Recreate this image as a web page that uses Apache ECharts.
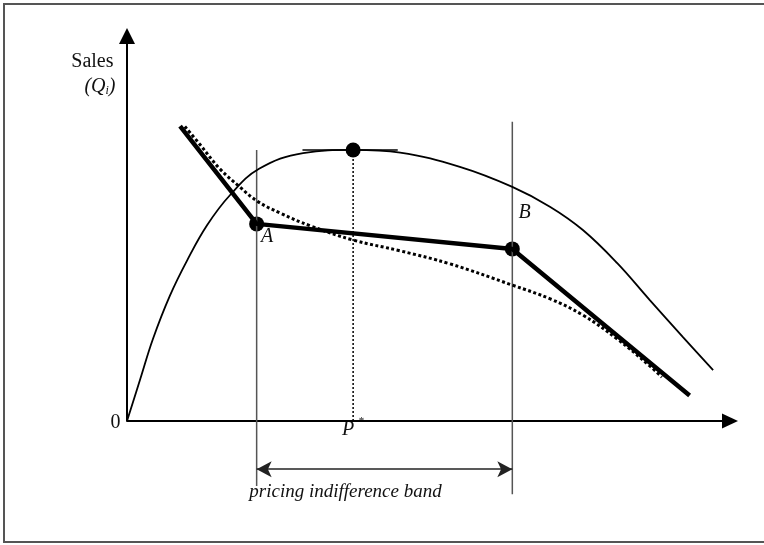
<!DOCTYPE html>
<html>
<head>
<meta charset="utf-8">
<script src="https://cdn.jsdelivr.net/npm/echarts@6/dist/echarts.min.js"></script>
<style>
  html, body { margin: 0; padding: 0; background: #fff; }
  #chart { width: 764px; height: 545px; }
</style>
</head>
<body>
<div id="chart"></div>
<script>
// price runs 0..100 to the right, sales 0..100 upwards (negative y = under the axis)
const salesCurve = [
  [0, 0], [2.2, 10.9], [4.3, 21.3], [7.1, 32.5], [10.0, 41.8], [13.3, 50.9],
  [17.1, 58.7], [21.9, 65.5], [29.2, 69.6], [37.5, 70.4], [45.3, 69.7],
  [55.2, 66.0], [63.9, 60.8], [70.2, 55.6], [75.6, 49.6], [81.3, 41.0],
  [86.7, 31.4], [92.2, 21.8], [97.2, 13.2]
]
const kinkedDemand = [[8.8, 76.6], [21.5, 51.2], [63.9, 44.7], [93.3, 6.6]]
const smoothDemand = [
  [9.6, 76.5], [12.1, 71.8], [15.4, 65.5], [18.7, 60.8], [21.6, 57.1],
  [25.4, 54.0], [30.4, 50.7], [37.5, 47.0], [45.3, 44.2], [53.6, 40.8],
  [63.9, 35.3], [70.2, 31.7], [75.6, 27.5], [81.3, 21.3], [86.7, 14.3],
  [88.7, 11.4]
]
const pointA = [21.5, 51.2]
const pointB = [63.9, 44.7]
const peak = [37.5, 70.4]
const tangentX = [29.1, 44.9]
const lineA = [-16.9, 70.4]
const lineB = [-19.0, 77.7]
const bandArrowY = -12.5
const yTop = 100

const font = '"Liberation Serif", "Times New Roman", serif'

function segment(pts, style) {
  return {
    type: 'line',
    data: pts,
    symbol: 'none',
    clip: false,
    silent: true,
    lineStyle: style
  }
}

const chart = echarts.init(document.getElementById('chart'))

const option = {
  backgroundColor: '#fff',
  animation: false,
  grid: {
    left: 127,
    right: 34,
    top: 36,
    bottom: 27.75
  },
  xAxis: {
    type: 'value',
    min: 0,
    max: 100,
    axisLine: {
      onZero: true,
      symbol: ['none', 'triangle'],
      symbolSize: [15, 16],
      lineStyle: { color: '#000', width: 2 }
    },
    axisTick: { show: false },
    axisLabel: { show: false },
    splitLine: { show: false }
  },
  yAxis: {
    type: 'value',
    min: -25,
    max: 100,
    axisLine: { show: false },
    axisTick: { show: false },
    axisLabel: { show: false },
    splitLine: { show: false }
  },
  graphic: [
    {
      type: 'rect',
      shape: { x: 4, y: 4, width: 800, height: 538 },
      style: { fill: 'none', stroke: '#555', lineWidth: 2 },
      silent: true
    },
    {
      type: 'text', x: 113.5, y: 62,
      style: { text: 'Sales', font: '20px ' + font, fill: '#111', align: 'right', verticalAlign: 'middle' }
    },
    {
      type: 'text', x: 115.5, y: 87,
      style: {
        text: '{a|(Q}{s|i}{a|)}',
        align: 'right',
        verticalAlign: 'middle',
        rich: {
          a: { font: 'italic 20px ' + font, fill: '#111' },
          s: { font: 'italic 12px ' + font, fill: '#111', verticalAlign: 'bottom' }
        }
      }
    },
    {
      type: 'text', x: 115.5, y: 423,
      style: { text: '0', font: '20px ' + font, fill: '#111', align: 'center', verticalAlign: 'middle' }
    },
    {
      type: 'text', x: 342, y: 430,
      style: { text: 'P', font: 'italic 20px ' + font, fill: '#111', align: 'left', verticalAlign: 'middle' }
    },
    {
      type: 'text', x: 361.5, y: 421,
      style: { text: '*', font: '11px ' + font, fill: '#111', align: 'center', verticalAlign: 'middle' }
    },
    {
      type: 'text', x: 261, y: 236.5,
      style: { text: 'A', font: 'italic 20px ' + font, fill: '#111', align: 'left', verticalAlign: 'middle' }
    },
    {
      type: 'text', x: 518.5, y: 213,
      style: { text: 'B', font: 'italic 20px ' + font, fill: '#111', align: 'left', verticalAlign: 'middle' }
    },
    {
      type: 'text', x: 345.5, y: 492,
      style: { text: 'pricing indifference band', font: 'italic 19px ' + font, fill: '#111', align: 'center', verticalAlign: 'middle' }
    }
  ],
  series: [
    // y axis drawn as a segment so it starts at the origin
    segment([[0, 0], [0, yTop]], { color: '#000', width: 2 }),
    segment([[pointA[0], lineA[0]], [pointA[0], lineA[1]]], { color: '#555', width: 1.5 }),
    segment([[pointB[0], lineB[0]], [pointB[0], lineB[1]]], { color: '#555', width: 1.5 }),
    segment([[peak[0], 0], [peak[0], peak[1]]], { color: '#000', width: 1.5, type: [2, 2] }),
    segment([[tangentX[0], peak[1]], [tangentX[1], peak[1]]], { color: '#000', width: 1.5 }),
    {
      type: 'line',
      data: salesCurve,
      smooth: 0.4,
      symbol: 'none',
      clip: false,
      silent: true,
      lineStyle: { color: '#000', width: 1.8 }
    },
    {
      type: 'line',
      data: smoothDemand,
      smooth: 0.4,
      symbol: 'none',
      clip: false,
      silent: true,
      lineStyle: { color: '#000', width: 3, type: [3, 2.5] }
    },
    {
      type: 'line',
      data: kinkedDemand,
      symbol: 'none',
      clip: false,
      silent: true,
      lineStyle: { color: '#000', width: 4.5 }
    },
    {
      type: 'line',
      data: [],
      silent: true,
      markLine: {
        silent: true,
        symbol: ['arrow', 'arrow'],
        symbolSize: [12, 15],
        label: { show: false },
        lineStyle: { color: '#222', width: 1.5, type: 'solid' },
        data: [[{ coord: [pointA[0], bandArrowY] }, { coord: [pointB[0], bandArrowY] }]]
      }
    },
    {
      type: 'scatter',
      data: [pointA, peak, pointB],
      symbolSize: 15,
      clip: false,
      silent: true,
      itemStyle: { color: '#000', opacity: 1 }
    },
    {
      type: 'scatter',
      data: [[0, yTop]],
      symbol: 'triangle',
      symbolSize: [16, 16],
      clip: false,
      silent: true,
      itemStyle: { color: '#000', opacity: 1 }
    }
  ]
}

chart.setOption(option)
</script>
</body>
</html>
